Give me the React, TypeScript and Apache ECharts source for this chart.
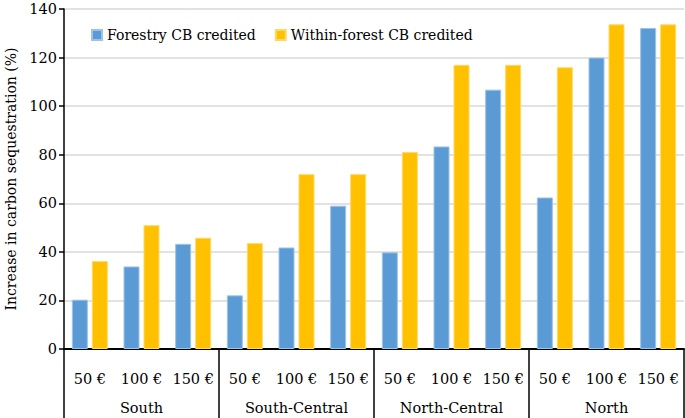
import React, { useEffect, useRef } from "react";
import * as echarts from "echarts";

const prices = ["50 €", "100 €", "150 €", "50 €", "100 €", "150 €", "50 €", "100 €", "150 €", "50 €", "100 €", "150 €"];
const regions = ["South", "South-Central", "North-Central", "North"];
const forestry = [20.3, 34, 43.3, 22.1, 41.8, 59, 39.8, 83.4, 106.8, 62.4, 120, 132.2];
const withinForest = [36.2, 51, 45.8, 43.6, 72, 72, 81.1, 117, 117, 116, 133.7, 133.7];
const yTicks = { min: 0, max: 140, interval: 20 };

const FONT = "DejaVu Serif";

export default function App() {
  const ref = useRef<HTMLDivElement>(null);
  useEffect(() => {
    if (!ref.current) return;
    const chart = echarts.init(ref.current, undefined, { renderer: "svg" });
    const lbl = { fontFamily: FONT, fontSize: 14.5, color: "#000" };
    chart.setOption({
      animation: false,
      textStyle: { fontFamily: FONT, color: "#000" },
      grid: { left: 64, right: 1, top: 9, bottom: 69, outerBoundsMode: "none", containLabel: false },
      legend: {
        left: 86,
        top: 23,
        icon: "rect",
        itemWidth: 10,
        itemHeight: 10,
        itemGap: 19,
        textStyle: { fontFamily: FONT, fontSize: 14, color: "#000" },
        data: ["Forestry CB credited", "Within-forest CB credited"],
      },
      xAxis: [
        {
          type: "category",
          data: prices,
          position: "bottom",
          axisLine: { show: true, lineStyle: { color: "#000", width: 2 } },
          axisTick: { show: false },
          axisLabel: { interval: 0, margin: 22, ...lbl },
        },
        {
          type: "category",
          data: regions,
          position: "bottom",
          axisLine: { show: false },
          axisTick: { show: true, length: 70, interval: 0, lineStyle: { color: "#000", width: 1.5 } },
          axisLabel: { interval: 0, margin: 51, ...lbl },
        },
      ],
      yAxis: {
        type: "value",
        min: yTicks.min,
        max: yTicks.max,
        interval: yTicks.interval,
        name: "Increase in carbon sequestration (%)",
        nameLocation: "middle",
        nameGap: 42,
        nameTextStyle: { fontFamily: FONT, fontSize: 14, color: "#000" },
        axisLine: { show: true, lineStyle: { color: "#000", width: 1.5 } },
        axisTick: { show: true, length: 5, lineStyle: { color: "#000", width: 1.5 } },
        axisLabel: { margin: 7, ...lbl },
        splitLine: { show: true, lineStyle: { color: "#d9d9d9", width: 1.5 } },
      },
      series: [
        {
          name: "Forestry CB credited",
          type: "bar",
          data: forestry,
          barWidth: 16,
          barGap: "25%",
          itemStyle: { color: "#5B9BD5", borderColor: "#9ec3e8", borderWidth: 1 },
        },
        {
          name: "Within-forest CB credited",
          type: "bar",
          data: withinForest,
          barWidth: 16,
          barGap: "25%",
          itemStyle: { color: "#FFC000", borderColor: "#ffd966", borderWidth: 1 },
        },
      ],
    });
    return () => chart.dispose();
  }, []);
  return <div ref={ref} style={{ width: 685, height: 418, position: "absolute", left: 0, top: 0 }} />;
}
